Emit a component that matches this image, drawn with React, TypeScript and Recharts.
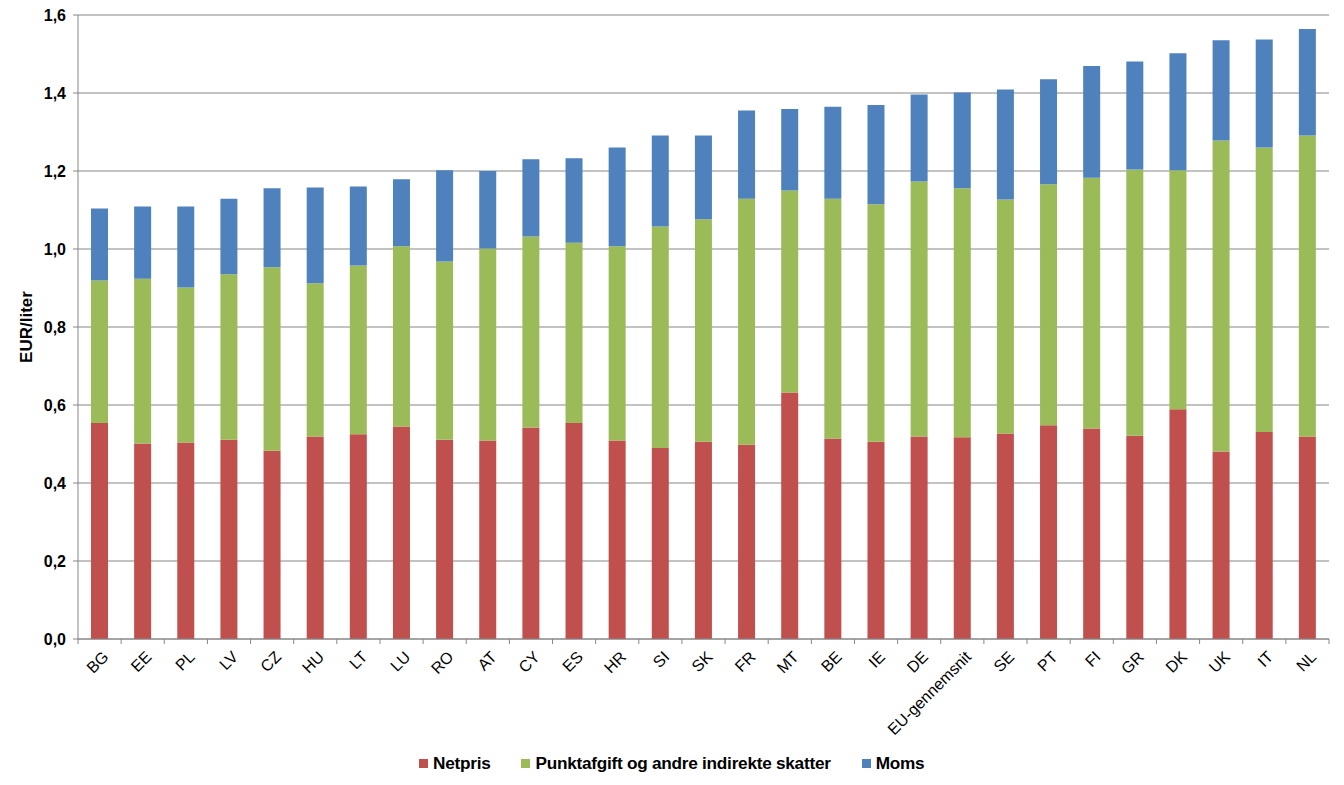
import { BarChart, Bar, XAxis, YAxis, CartesianGrid } from 'recharts'

const categories = ['BG', 'EE', 'PL', 'LV', 'CZ', 'HU', 'LT', 'LU', 'RO', 'AT', 'CY', 'ES', 'HR', 'SI', 'SK', 'FR', 'MT', 'BE', 'IE', 'DE', 'EU-gennemsnit', 'SE', 'PT', 'FI', 'GR', 'DK', 'UK', 'IT', 'NL']

// values, EUR/liter
const netpris = [0.554, 0.501, 0.504, 0.511, 0.483, 0.519, 0.525, 0.545, 0.511, 0.509, 0.542, 0.554, 0.509, 0.49, 0.506, 0.498, 0.632, 0.514, 0.506, 0.519, 0.517, 0.527, 0.548, 0.54, 0.521, 0.589, 0.481, 0.531, 0.519]
const punktafgift = [0.365, 0.423, 0.397, 0.424, 0.47, 0.393, 0.433, 0.462, 0.457, 0.492, 0.49, 0.462, 0.498, 0.568, 0.57, 0.631, 0.518, 0.615, 0.609, 0.654, 0.639, 0.6, 0.618, 0.643, 0.683, 0.613, 0.797, 0.729, 0.772]
const moms = [0.185, 0.185, 0.208, 0.194, 0.203, 0.246, 0.202, 0.172, 0.234, 0.199, 0.198, 0.217, 0.253, 0.233, 0.215, 0.226, 0.209, 0.236, 0.254, 0.223, 0.245, 0.282, 0.269, 0.286, 0.277, 0.3, 0.257, 0.277, 0.273]

const yTicks = [0, 0.2, 0.4, 0.6, 0.8, 1.0, 1.2, 1.4, 1.6]

const seriesNames = ['Netpris', 'Punktafgift og andre indirekte skatter', 'Moms']
const seriesColors = ['#C0504D', '#9BBB59', '#4F81BD']

const data = categories.map((c, i) => ({
  name: c,
  netpris: netpris[i],
  punktafgift: punktafgift[i],
  moms: moms[i],
}))

const W = 1344
const H = 785
const PLOT_LEFT = 78
const PLOT_RIGHT = 1329
const PLOT_BOTTOM = 639
const BAND = (PLOT_RIGHT - PLOT_LEFT) / categories.length
const FONT = '"Liberation Sans", Arial, sans-serif'
const AXIS_GRAY = '#868686'

function CategoryTick(props: any) {
  const { x, payload, index } = props
  const left = x - BAND / 2
  const isLast = index === categories.length - 1
  const tx = x + 6
  const ty = PLOT_BOTTOM + 15
  return (
    <g>
      <line x1={left} x2={left} y1={PLOT_BOTTOM} y2={PLOT_BOTTOM + 5} stroke={AXIS_GRAY} />
      {isLast && <line x1={left + BAND} x2={left + BAND} y1={PLOT_BOTTOM} y2={PLOT_BOTTOM + 5} stroke={AXIS_GRAY} />}
      <text x={tx} y={ty} transform={`rotate(-45, ${tx}, ${ty})`}
            textAnchor="end" dy="0.35em" fontSize={16} fontFamily={FONT} fill="#000">
        {payload.value}
      </text>
    </g>
  )
}

export default function App() {
  return (
    <div style={{ position: 'absolute', left: 0, top: 0, width: W, height: H, background: '#fff' }}>
      <BarChart width={W} height={H} data={data} barSize={17}
                margin={{ top: 15, right: W - PLOT_RIGHT, left: 0, bottom: 0 }}>
        <CartesianGrid vertical={false} stroke={AXIS_GRAY} />
        <XAxis dataKey="name" interval={0} height={H - PLOT_BOTTOM} tickLine={false}
               axisLine={{ stroke: AXIS_GRAY }} tick={<CategoryTick />} />
        <YAxis width={PLOT_LEFT} domain={[0, 1.6]} ticks={yTicks} interval={0}
               axisLine={{ stroke: AXIS_GRAY }} tickLine={{ stroke: AXIS_GRAY }} tickSize={5} tickMargin={7}
               tickFormatter={(v: number) => v.toFixed(1).replace('.', ',')}
               tick={{ fontSize: 16, fontWeight: 'bold', fill: '#000', fontFamily: FONT }}
               label={{ value: 'EUR/liter', angle: -90, position: 'insideLeft', offset: 26,
                        style: { fontSize: 17, fontWeight: 'bold', fill: '#000', fontFamily: FONT, textAnchor: 'middle' } }} />
        <Bar dataKey="netpris" stackId="a" fill={seriesColors[0]} isAnimationActive={false} />
        <Bar dataKey="punktafgift" stackId="a" fill={seriesColors[1]} isAnimationActive={false} />
        <Bar dataKey="moms" stackId="a" fill={seriesColors[2]} isAnimationActive={false} />
      </BarChart>
      <div style={{ position: 'absolute', left: 419, top: 753, display: 'flex',
                    fontFamily: FONT, fontSize: 17.2, fontWeight: 'bold', color: '#000', letterSpacing: -0.25 }}>
        {seriesNames.map((n, i) => (
          <div key={n} style={{ display: 'flex', alignItems: 'center', marginRight: i < 2 ? 31 : 0 }}>
            <span style={{ width: 9, height: 9, background: seriesColors[i], marginRight: 5, display: 'inline-block' }} />
            <span>{n}</span>
          </div>
        ))}
      </div>
    </div>
  )
}
